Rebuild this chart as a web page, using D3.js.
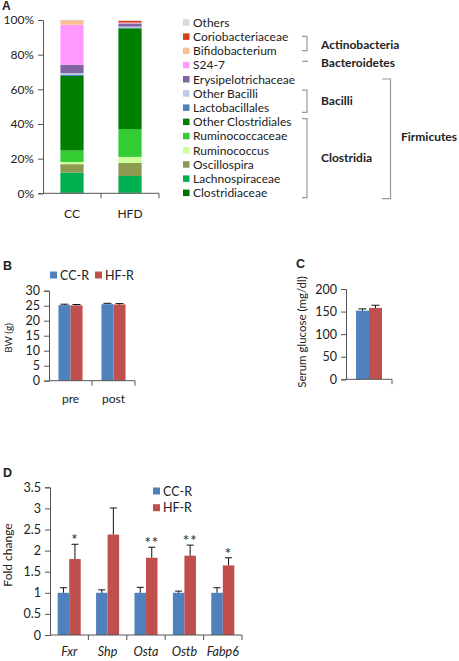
<!DOCTYPE html>
<html><head><meta charset="utf-8">
<script src="https://cdn.jsdelivr.net/npm/d3@7"></script>
<style>
body{margin:0;background:#fff;}
svg text{font-family:Lato,"Open Sans",sans-serif;fill:#222;}
.plabel{font-family:"Liberation Sans",Arial,sans-serif !important;font-weight:bold;font-size:12.5px;}
</style></head>
<body>
<svg id="c" width="459" height="661"></svg>
<script>
// ---------- DATA ----------
// Panel A (legend order, top to bottom)
const taxa = ["Others","Coriobacteriaceae","Bifidobacterium","S24-7","Erysipelotrichaceae","Other Bacilli","Lactobacillales","Other Clostridiales","Ruminococcaceae","Ruminococcus","Oscillospira","Lachnospiraceae","Clostridiaceae"];
const taxaColors = ["#d9d9d9","#d4401c","#fac090","#ff99ff","#8064a2","#b9cde5","#4f81bd","#007f00","#33cc33","#ccff99","#8c9a52","#00b050","#006e00"];
const groupsA = ["CC","HFD"];
const ccValues  = [0.3,0.2,2.2,23.2,4.8,0.8,0.8,43.0,6.6,1.3,4.8,11.5,0.5];
const hfdValues = [0.5,1.0,0.3,0.2,1.8,0.6,0.4,58.1,16.1,3.5,7.5,9.7,0.3];
const yTicksA = [0,20,40,60,80,100];
const phyla = [
  {name:"Actinobacteria", from:1, to:2},
  {name:"Bacteroidetes", from:3, to:3},
  {name:"Bacilli", from:5, to:6},
  {name:"Clostridia", from:7, to:12}
];
const phylumOuter = {name:"Firmicutes", from:4, to:12};

// Panel B
const seriesNames = ["CC-R","HF-R"];
const seriesColors = ["#4f81bd","#c0504d"];
const timeCats = ["pre","post"];
const bwMean = [[25.2,25.1],[25.5,25.4]];
const bwErr  = [[0.3,0.3],[0.3,0.3]];
const yTicksB = [0,5,10,15,20,25,30];

// Panel C
const glucoseMean = [152,158];
const glucoseErr  = [4,6];
const yTicksC = [0,50,100,150,200];

// Panel D
const genes = ["Fxr","Shp","Osta","Ostb","Fabp6"];
const foldCC  = [1,1,1,1,1];
const errCC   = [0.12,0.07,0.13,0.04,0.12];
const foldHF  = [1.80,2.38,1.83,1.88,1.65];
const errHF   = [0.35,0.63,0.25,0.25,0.18];
const signif  = ["*","","**","**","*"];
const yTicksD = [0,0.5,1,1.5,2,2.5,3,3.5];

// ---------- DRAW ----------
const svg = d3.select("#c");
const axisColor = "#555";

function yAxisDraw(g, y, x0, ticks, fmt, fs){
  const a = g.append("g").attr("transform",`translate(${x0},0)`)
    .call(d3.axisLeft(y).tickValues(ticks).tickSize(5).tickPadding(4).tickFormat(fmt));
  a.select(".domain").attr("stroke",axisColor);
  a.selectAll(".tick line").attr("stroke",axisColor);
  a.selectAll(".tick text").attr("font-size",fs||12).attr("fill","#222").style("font-family","Lato");
  return a;
}
function xBaseline(g, x0, x1, yb, tickXs){
  g.append("line").attr("x1",x0).attr("x2",x1).attr("y1",yb).attr("y2",yb).attr("stroke",axisColor);
  tickXs.forEach(t=>g.append("line").attr("x1",t).attr("x2",t).attr("y1",yb).attr("y2",yb+5).attr("stroke",axisColor));
}
function errBar(g, cx, ytop, ybase, w){
  g.append("line").attr("x1",cx).attr("x2",cx).attr("y1",ybase).attr("y2",ytop).attr("stroke","#111").attr("stroke-width",1);
  g.append("line").attr("x1",cx-w/2).attr("x2",cx+w/2).attr("y1",ytop).attr("y2",ytop).attr("stroke","#111").attr("stroke-width",1);
}

// ===== Panel A =====
svg.append("text").attr("class","plabel").attr("x",2).attr("y",9.5).style("font-size","12px").text("A");
const gA = svg.append("g");
const yA = d3.scaleLinear().domain([0,100]).range([193.3,20]);
const xA = d3.scaleBand().domain(groupsA).range([43,159]).paddingInner(0.6).paddingOuter(0.3);
const stackKeys = taxa.slice().reverse();
const rowsA = groupsA.map((g,i)=>{
  const o = {grp:g};
  const vals = i===0?ccValues:hfdValues;
  taxa.forEach((t,j)=>o[t]=vals[j]);
  return o;
});
const stacked = d3.stack().keys(stackKeys)(rowsA);
stacked.forEach(layer=>{
  const col = taxaColors[taxa.indexOf(layer.key)];
  gA.selectAll(null).data(layer).enter().append("rect")
    .attr("x",d=>xA(d.data.grp)).attr("width",xA.bandwidth())
    .attr("y",d=>yA(d[1])).attr("height",d=>yA(d[0])-yA(d[1]))
    .attr("fill",col);
});
yAxisDraw(gA, yA, 43, yTicksA, d=>d+"%", 12);
{
  const st = xA.step();
  const edges = [43, 43+st, 43+2*st];
  xBaseline(gA, 43, 43+2*st, 193.3, edges.slice(1));
  groupsA.forEach(g=>gA.append("text").attr("x",xA(g)+xA.bandwidth()/2).attr("y",218)
    .attr("text-anchor","middle").attr("font-size",12).text(g));
}
// legend A
const rowY = i => 22.7 + i*14.2;
taxa.forEach((t,i)=>{
  gA.append("rect").attr("x",183).attr("y",rowY(i)-3.5).attr("width",6.5).attr("height",6.5).attr("fill",taxaColors[i]);
  gA.append("text").attr("x",193).attr("y",rowY(i)+4).attr("font-size",12).text(t);
});
const brC = "#999";
function bracket(xL, xR, top, bot){
  gA.append("path").attr("d",`M${xL},${top}H${xR}V${bot}H${xL}`).attr("fill","none").attr("stroke",brC).attr("stroke-width",1.2);
}
phyla.forEach(p=>{
  let top = rowY(p.from)-3.5, bot = rowY(p.to)+4.5;
  if(p.from===p.to){
    gA.append("line").attr("x1",302).attr("x2",308).attr("y1",rowY(p.from)-4).attr("y2",rowY(p.from)-4).attr("stroke",brC).attr("stroke-width",1.2);
  } else if(p.name==="Actinobacteria"){
    bracket(302,307,rowY(p.from)-0.5,rowY(p.to)-0.5);
  } else {
    bracket(302,307,top,bot);
  }
  const cy = p.from===p.to ? rowY(p.from)-2 : (rowY(p.from)+rowY(p.to))/2 + 0.5;
  gA.append("text").attr("x",321).attr("y",cy+4).attr("font-size",12).attr("font-weight","bold").text(p.name);
});
bracket(382,390.5,rowY(phylumOuter.from)-0.5,rowY(phylumOuter.to)+5.5);
gA.append("text").attr("x",401).attr("y",(rowY(phylumOuter.from)+rowY(phylumOuter.to))/2+5)
  .attr("font-size",12).attr("font-weight","bold").text(phylumOuter.name);

// ===== Panel B =====
svg.append("text").attr("class","plabel").attr("x",3).attr("y",270).text("B");
const gB = svg.append("g");
const yB = d3.scaleLinear().domain([0,30]).range([380.7,290.7]);
const xB = d3.scaleBand().domain(timeCats).range([49,135]).paddingInner(0.44).paddingOuter(0.22);
const xBs = d3.scaleBand().domain(seriesNames).range([0,xB.bandwidth()]);
timeCats.forEach((c,i)=>{
  seriesNames.forEach((s,j)=>{
    const x = xB(c)+xBs(s);
    gB.append("rect").attr("x",x).attr("width",xBs.bandwidth()).attr("y",yB(bwMean[i][j]))
      .attr("height",yB(0)-yB(bwMean[i][j])).attr("fill",seriesColors[j]);
    errBar(gB, x+xBs.bandwidth()/2, yB(bwMean[i][j]+bwErr[i][j]), yB(bwMean[i][j]), 8);
  });
  gB.append("text").attr("x",xB(c)+xB.bandwidth()/2).attr("y",403).attr("text-anchor","middle").attr("font-size",12).text(c);
});
yAxisDraw(gB, yB, 49, yTicksB, d=>d, 12.5);
xBaseline(gB, 49, 135, 380.7, [49+xB.step(), 49+2*xB.step()]);
gB.append("text").attr("transform","translate(12,338) rotate(-90)").attr("text-anchor","middle").attr("font-size",10).text("BW (g)");
// legend B
seriesNames.forEach((s,j)=>{
  const lx = [50,95][j];
  gB.append("rect").attr("x",lx).attr("y",271.5).attr("width",7).attr("height",7).attr("fill",seriesColors[j]);
  gB.append("text").attr("x",lx+10).attr("y",279.5).attr("font-size",12.5).text(s);
});

// ===== Panel C =====
svg.append("text").attr("class","plabel").attr("x",296).attr("y",268).text("C");
const gC = svg.append("g");
const yC = d3.scaleLinear().domain([0,200]).range([379.3,289]);
const xC = d3.scaleBand().domain(seriesNames).range([356,382]);
seriesNames.forEach((s,j)=>{
  gC.append("rect").attr("x",xC(s)).attr("width",xC.bandwidth()).attr("y",yC(glucoseMean[j]))
    .attr("height",yC(0)-yC(glucoseMean[j])).attr("fill",seriesColors[j]);
  errBar(gC, xC(s)+xC.bandwidth()/2, yC(glucoseMean[j]+glucoseErr[j]), yC(glucoseMean[j]), 8);
});
yAxisDraw(gC, yC, 346, yTicksC, d=>d, 12.5);
xBaseline(gC, 346, 392, 379.3, [392]);
gC.append("text").attr("transform","translate(306,332) rotate(-90)").attr("text-anchor","middle").attr("font-size",11.5).text("Serum glucose (mg/dl)");

// ===== Panel D =====
svg.append("text").attr("class","plabel").attr("x",3).attr("y",477).text("D");
const gD = svg.append("g");
const yD = d3.scaleLinear().domain([0,3.5]).range([635,487.3]);
const xD = d3.scaleBand().domain(genes).range([50,242]).paddingInner(0.4).paddingOuter(0.2);
const xDs = d3.scaleBand().domain(seriesNames).range([0,xD.bandwidth()]);
genes.forEach((g,i)=>{
  const vals = [foldCC[i],foldHF[i]], errs=[errCC[i],errHF[i]];
  seriesNames.forEach((s,j)=>{
    const x = xD(g)+xDs(s);
    gD.append("rect").attr("x",x).attr("width",xDs.bandwidth()).attr("y",yD(vals[j]))
      .attr("height",yD(0)-yD(vals[j])).attr("fill",seriesColors[j]);
    errBar(gD, x+xDs.bandwidth()/2, yD(vals[j]+errs[j]), yD(vals[j]), 7);
  });
  if(signif[i]){
    gD.append("text").attr("x",xD(g)+xDs("HF-R")+xDs.bandwidth()/2).attr("y",yD(foldHF[i]+errHF[i])+1)
      .attr("text-anchor","middle").attr("font-size",15).attr("letter-spacing",1).text(signif[i]);
  }
  gD.append("text").attr("x",xD(g)+xD.bandwidth()/2).attr("y",656).attr("text-anchor","middle")
    .attr("font-size",12.5).attr("font-style","italic").text(g);
});
yAxisDraw(gD, yD, 50, yTicksD, d=>d, 12.5);
{
  const st = xD.step();
  xBaseline(gD, 50, 242, 635, d3.range(1,6).map(k=>50+k*st));
}
gD.append("text").attr("transform","translate(12,555) rotate(-90)").attr("text-anchor","middle").attr("font-size",12).text("Fold change");
seriesNames.forEach((s,j)=>{
  const ly = [491,507.7][j];
  gD.append("rect").attr("x",153).attr("y",ly-3.5).attr("width",7).attr("height",7).attr("fill",seriesColors[j]);
  gD.append("text").attr("x",163).attr("y",ly+4.5).attr("font-size",12.5).text(s);
});
</script>
</body></html>
